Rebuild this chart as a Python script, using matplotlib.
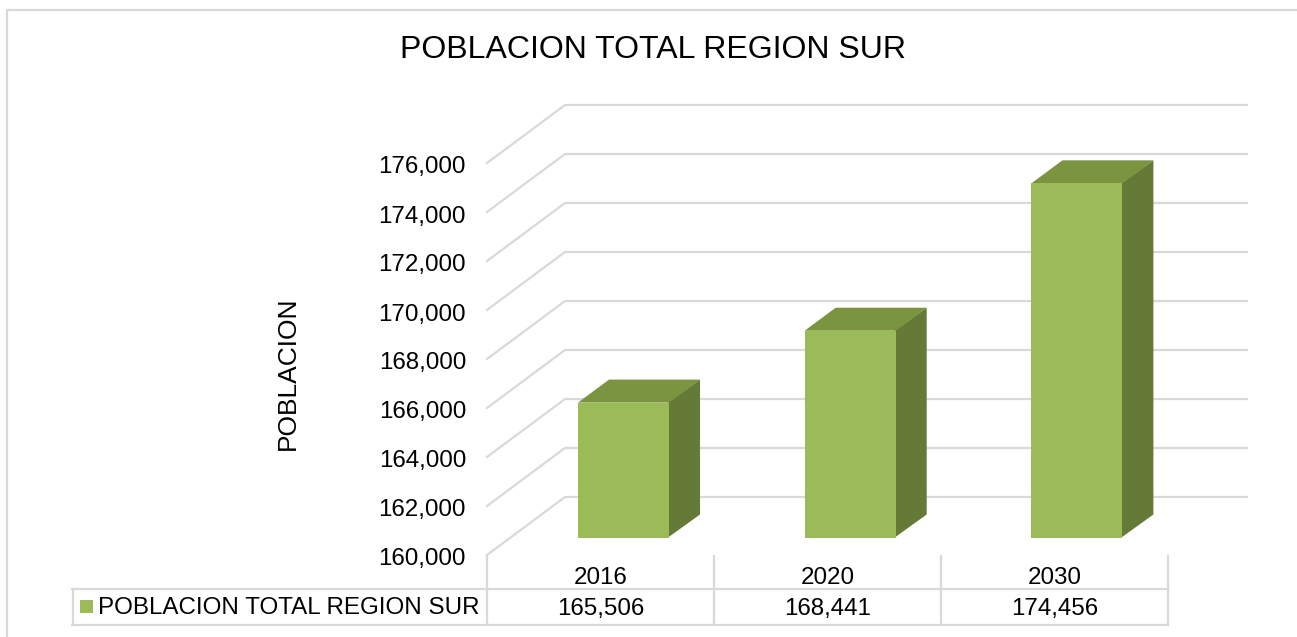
import matplotlib

matplotlib.use("Agg")
import matplotlib.pyplot as plt
from matplotlib.patches import Polygon, Rectangle
from matplotlib.ticker import StrMethodFormatter

YEARS = ["2016", "2020", "2030"]
POPULATION = [165506, 168441, 174456]
Y_TICKS = [160000, 162000, 164000, 166000, 168000, 170000, 172000, 174000, 176000]
TITLE = "POBLACION TOTAL REGION SUR"
Y_LABEL = "POBLACION"

W, H = 1297, 637
FRONT, SIDE, TOP = "#9BBB59", "#667A38", "#7A9440"
LINE = "#D9D9D9"
TEXT = "#000000"

plt.rcParams["font.family"] = ["Liberation Sans", "DejaVu Sans"]

# scales of the bar plane, in pixels
PX_PER_CAT = 226.7
PX_PER_UNIT = 24.5 / 1000
X0, Y0 = 623.5, 537.5  # first category centre, base of the bars
BAR_W = 91 / PX_PER_CAT
DEPTH_X, DEPTH_Y = 31 / PX_PER_CAT, 23 / PX_PER_UNIT

fig = plt.figure(figsize=(W / 100, H / 100), dpi=100, facecolor="white")

# pixel overlay for the frame and the data table
px = fig.add_axes([0, 0, 1, 1])
px.set_xlim(0, W)
px.set_ylim(H, 0)
px.axis("off")

# category / value axes lined up on the same canvas
ax = fig.add_axes([0, 0, 1, 1])
ax.patch.set_alpha(0)
ax.set_xlim(-X0 / PX_PER_CAT, (W - X0) / PX_PER_CAT)
ax.set_ylim(Y_TICKS[0] - (H - Y0) / PX_PER_UNIT, Y_TICKS[0] + Y0 / PX_PER_UNIT)
ax.axis("off")

# chart frame
px.plot([6.5, 6.5, W], [H, 9.5, 9.5], color=LINE, lw=1.6, solid_capstyle="butt")

# walls: slanted side + back gridlines
wall_dx, wall_dy = 78 / PX_PER_CAT, 58 / PX_PER_UNIT
wall_x = (487 - X0) / PX_PER_CAT
right_x = (1247 - X0) / PX_PER_CAT
front_shift = 17.5 / PX_PER_UNIT
fmt = StrMethodFormatter("{x:,.0f}")
for v in Y_TICKS:
    y = v - front_shift
    ax.plot([wall_x, wall_x + wall_dx, right_x], [y, y + wall_dy, y + wall_dy],
            color=LINE, lw=1.6, zorder=1, solid_joinstyle="miter")
    ax.text((466 - X0) / PX_PER_CAT, y - 4.5 / PX_PER_UNIT, fmt(v), ha="right", va="center",
            fontsize=17.4, color=TEXT)

# bars
seam = 1 / PX_PER_CAT
for i, val in enumerate(POPULATION):
    l, r = i - BAR_W / 2, i + BAR_W / 2
    b = Y_TICKS[0]
    ax.add_patch(Polygon([(r - seam, b), (r + DEPTH_X, b + DEPTH_Y), (r + DEPTH_X, val + DEPTH_Y), (r - seam, val)],
                         facecolor=SIDE, edgecolor="none", zorder=3))
    ax.add_patch(Polygon([(l, val), (r, val), (r + DEPTH_X, val + DEPTH_Y), (l + DEPTH_X, val + DEPTH_Y)],
                         facecolor=TOP, edgecolor="none", zorder=3))
    ax.add_patch(Rectangle((l, b), BAR_W, val - b, facecolor=FRONT, edgecolor="none", zorder=4))

# data table
cat_edges = [487, 714, 941, 1168]
for x in cat_edges:
    px.plot([x, x], [555, 625], color=LINE, lw=1.6, solid_capstyle="butt")
px.plot([72, 1168], [589, 589], color=LINE, lw=1.6)
px.plot([72, 1168], [625, 625], color=LINE, lw=1.6)
px.plot([72.5, 72.5], [589, 625], color=LINE, lw=1.6)
px.add_patch(Rectangle((80, 600), 13, 13, facecolor=FRONT, edgecolor="none"))
px.text(98, 607.5, TITLE, ha="left", va="center", fontsize=17.4, color=TEXT)
for i, (year, val) in enumerate(zip(YEARS, POPULATION)):
    cx = (cat_edges[i] + cat_edges[i + 1]) / 2
    px.text(cx, 577.5, year, ha="center", va="center", fontsize=17.4, color=TEXT)
    px.text(cx, 609, fmt(val), ha="center", va="center", fontsize=17.4, color=TEXT)

px.text(653, 50.5, TITLE, ha="center", va="center", fontsize=23, color=TEXT)
px.text(288, 373, Y_LABEL, ha="center", va="center", rotation=90, fontsize=19, color=TEXT)

fig.savefig("out.png", dpi=100)
